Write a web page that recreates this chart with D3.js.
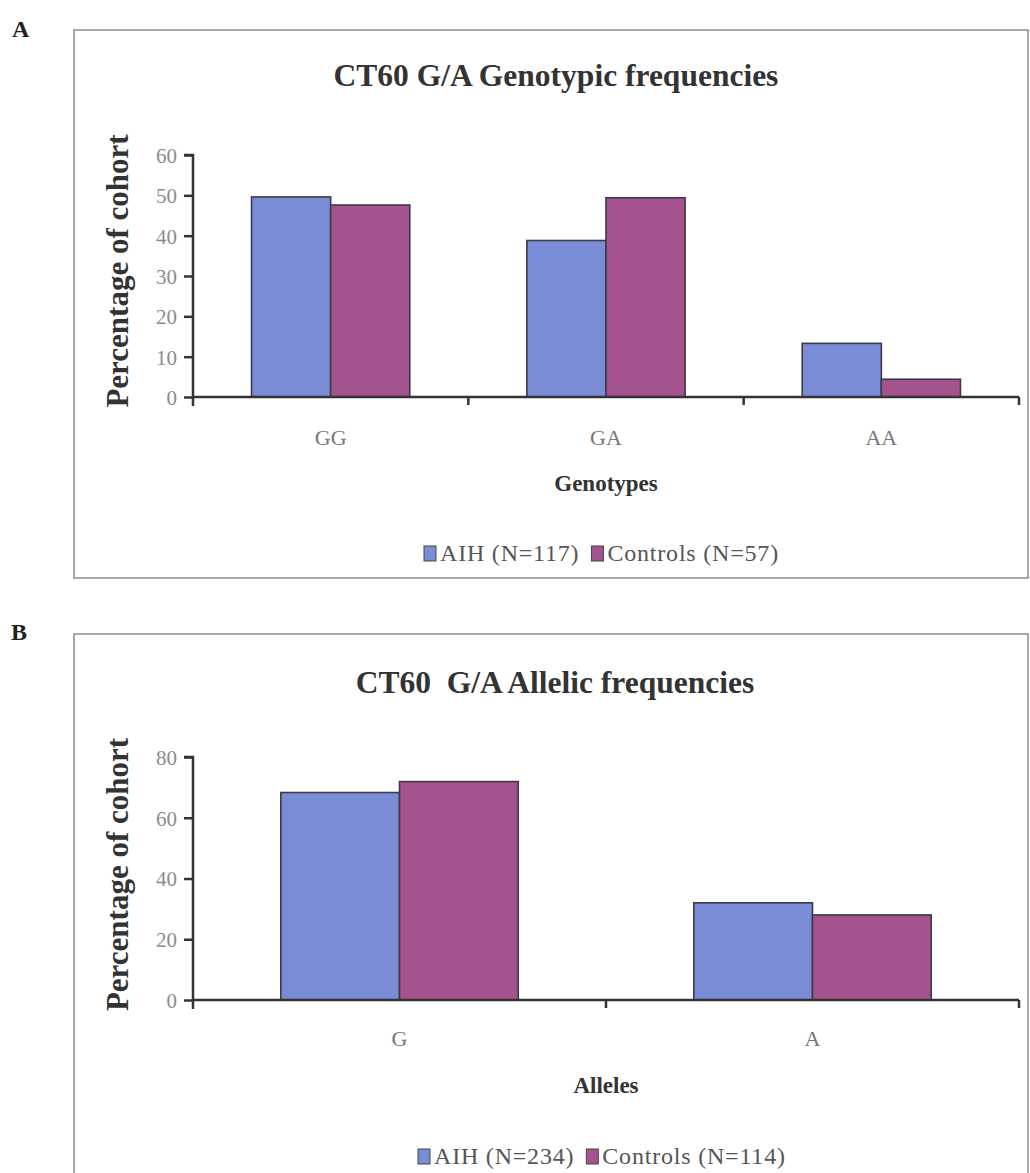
<!DOCTYPE html>
<html>
<head>
<meta charset="utf-8">
<script src="https://cdn.jsdelivr.net/npm/d3@7"></script>
<style>
  html, body { margin: 0; padding: 0; background: #fff; }
  svg { display: block; }
</style>
</head>
<body>
<svg id="chart" width="1030" height="1173"></svg>
<script>
// ---------- data ----------
const series = ["AIH", "Controls"];
const genotypeCategories = ["GG", "GA", "AA"];
const genotypeAIH = [49.6, 38.8, 13.3];
const genotypeControls = [47.6, 49.4, 4.4];
const genotypeTicks = [0, 10, 20, 30, 40, 50, 60];
const genotypeLegend = ["AIH (N=117)", "Controls (N=57)"];

const alleleCategories = ["G", "A"];
const alleleAIH = [68.3, 32.0];
const alleleControls = [71.9, 28.0];
const alleleTicks = [0, 20, 40, 60, 80];
const alleleLegend = ["AIH (N=234)", "Controls (N=114)"];

const colors = ["#7B8CD7", "#A5538F"];

const svg = d3.select("#chart");
const serif = "'Liberation Serif', 'Times New Roman', serif";

function panel(cfg) {
  const g = svg.append("g");
  // panel letter
  g.append("text").attr("x", cfg.letterX).attr("y", cfg.letterY)
    .attr("font-family", serif).attr("font-weight", "bold").attr("font-size", 24)
    .attr("fill", "#222").text(cfg.letter);
  // frame
  g.append("rect").attr("x", cfg.box[0]).attr("y", cfg.box[1])
    .attr("width", cfg.box[2]).attr("height", cfg.box[3])
    .attr("fill", "none").attr("stroke", "#8a8a8a").attr("stroke-width", 1.5);

  const x0 = d3.scaleBand().domain(cfg.categories).range([cfg.left, cfg.right]).padding(0);
  const x1 = d3.scaleBand().domain(series).range([0, x0.bandwidth()]).paddingInner(0).paddingOuter(0.74);
  const y = d3.scaleLinear().domain([0, cfg.max]).range([cfg.bottom, cfg.top]);

  // title
  g.append("text").attr("x", cfg.titleX).attr("y", cfg.titleY)
    .attr("text-anchor", "middle").attr("font-family", serif).attr("font-weight", "bold")
    .attr("font-size", cfg.titleSize).attr("fill", "#333").attr("xml:space", "preserve")
    .text(cfg.title);

  // bars
  const rows = cfg.categories.map((c, i) => ({ cat: c, vals: [cfg.aih[i], cfg.ctl[i]] }));
  const grp = g.selectAll("g.cat").data(rows).enter().append("g")
    .attr("transform", d => `translate(${x0(d.cat)},0)`);
  grp.selectAll("rect").data(d => d.vals.map((v, j) => ({ s: series[j], v, j }))).enter()
    .append("rect")
    .attr("x", d => x1(d.s)).attr("width", x1.bandwidth())
    .attr("y", d => y(d.v)).attr("height", d => y(0) - y(d.v))
    .attr("fill", d => colors[d.j]).attr("stroke", "#3a3a4a").attr("stroke-width", 1.6);

  // y axis
  const yAxis = d3.axisLeft(y).tickValues(cfg.ticks).tickSize(9).tickPadding(7).tickFormat(d3.format("d"));
  const ya = g.append("g").attr("transform", `translate(${cfg.left},0)`).call(yAxis);
  ya.select(".domain").attr("stroke", "#333").attr("stroke-width", 2.5)
    .attr("d", `M-9,${cfg.top}H0V${cfg.bottom + 9}`);
  ya.selectAll(".tick line").attr("stroke", "#333").attr("stroke-width", 2.5);
  ya.selectAll(".tick text").attr("font-family", serif).attr("font-size", 21)
    .attr("fill", "#8c8c8c").attr("dy", "0.35em");

  // x axis line and boundary ticks
  g.append("line").attr("x1", cfg.left).attr("x2", cfg.right)
    .attr("y1", cfg.bottom).attr("y2", cfg.bottom)
    .attr("stroke", "#333").attr("stroke-width", 2.5);
  const bounds = cfg.categories.map(c => x0(c)).concat([cfg.right]).slice(1);
  g.selectAll("line.xt").data(bounds).enter().append("line")
    .attr("x1", d => d).attr("x2", d => d)
    .attr("y1", cfg.bottom).attr("y2", cfg.bottom + 8)
    .attr("stroke", "#333").attr("stroke-width", 2.5);
  g.selectAll("text.xl").data(cfg.categories).enter().append("text")
    .attr("x", d => x0(d) + x0.bandwidth() / 2).attr("y", cfg.catY)
    .attr("text-anchor", "middle").attr("font-family", serif).attr("font-size", 22)
    .attr("fill", "#777").text(d => d);

  // x title
  g.append("text").attr("x", (cfg.left + cfg.right) / 2).attr("y", cfg.xTitleY)
    .attr("text-anchor", "middle").attr("font-family", serif).attr("font-weight", "bold")
    .attr("font-size", 23).attr("fill", "#333").text(cfg.xTitle);

  // y title
  g.append("text")
    .attr("transform", `translate(${cfg.yTitleX},${(cfg.top + cfg.bottom) / 2 + cfg.yTitleShift}) rotate(-90)`)
    .attr("text-anchor", "middle").attr("font-family", serif).attr("font-weight", "bold")
    .attr("font-size", 31).attr("fill", "#333").text("Percentage of cohort");

  // legend
  const lg = g.append("g").attr("transform", `translate(${cfg.legendX},${cfg.legendY})`);
  let cx = 0;
  cfg.legend.forEach((label, i) => {
    lg.append("rect").attr("x", cx).attr("y", -15).attr("width", 12).attr("height", 15)
      .attr("fill", colors[i]).attr("stroke", "#444").attr("stroke-width", 1);
    const t = lg.append("text").attr("x", cx + 16).attr("y", 0)
      .attr("font-family", serif).attr("font-size", 24).attr("letter-spacing", 0.8)
      .attr("fill", "#555").text(label);
    cx += 16 + t.node().getComputedTextLength() + 12;
  });
}

panel({
  letter: "A", letterX: 12, letterY: 37,
  box: [74, 30, 954, 548],
  categories: genotypeCategories, aih: genotypeAIH, ctl: genotypeControls,
  ticks: genotypeTicks, max: 60,
  left: 193, right: 1019, bottom: 397, top: 155,
  title: "CT60 G/A Genotypic frequencies", titleX: 556, titleY: 86, titleSize: 31.5,
  catY: 445, xTitle: "Genotypes", xTitleY: 491,
  yTitleX: 128, yTitleShift: -5,
  legend: genotypeLegend, legendX: 424, legendY: 561
});

panel({
  letter: "B", letterX: 11, letterY: 640,
  box: [74, 634, 954, 560],
  categories: alleleCategories, aih: alleleAIH, ctl: alleleControls,
  ticks: alleleTicks, max: 80,
  left: 193, right: 1019, bottom: 1000, top: 757,
  title: "CT60  G/A Allelic frequencies", titleX: 555, titleY: 693, titleSize: 31.5,
  catY: 1046, xTitle: "Alleles", xTitleY: 1093,
  yTitleX: 128, yTitleShift: -4,
  legend: alleleLegend, legendX: 418, legendY: 1164
});
</script>
</body>
</html>
